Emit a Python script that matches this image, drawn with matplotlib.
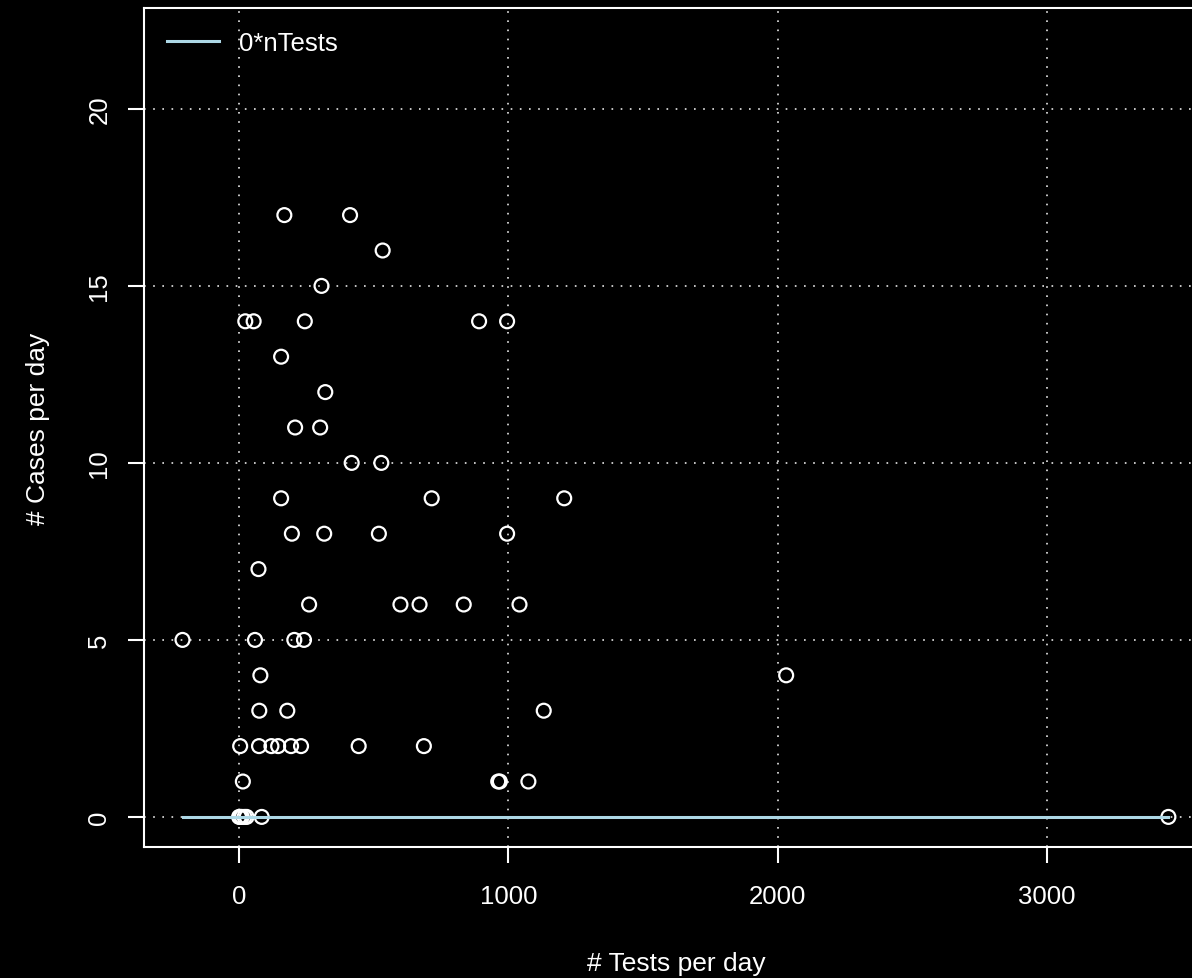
import matplotlib
matplotlib.use("Agg")
import matplotlib.pyplot as plt

# daily tests vs daily cases
tests = [168, 412, 533, 306, 23, 54, 244, 891, 995, 156, 320, 208, 301,
         418, 528, 156, 715, 1207, 196, 316, 519, 995, 72,
         260, 599, 670, 834, 1041, -210, 59, 205, 241, 79, 2031,
         75, 179, 1131, 4, 74, 120, 145, 193, 230, 444, 686,
         14, 962, 968, 1074, 0, 4, 10, 20, 28, 84, 3450]
cases = [17, 17, 16, 15, 14, 14, 14, 14, 14, 13, 12, 11, 11,
         10, 10, 9, 9, 9, 8, 8, 8, 8, 7,
         6, 6, 6, 6, 6, 5, 5, 5, 5, 4, 4,
         3, 3, 3, 2, 2, 2, 2, 2, 2, 2, 2,
         1, 1, 1, 1, 0, 0, 0, 0, 0, 0, 0]
xticks = [0, 1000, 2000, 3000]
yticks = [0, 5, 10, 15, 20]

plt.rcParams["font.family"] = ["Liberation Sans", "DejaVu Sans"]
plt.rcParams["font.size"] = 18.5

fig = plt.figure(figsize=(11.92, 9.79), dpi=100, facecolor="black")
ax = fig.add_axes([144 / 1192, 131 / 979, (1208 - 144) / 1192, (970 - 131) / 979])
ax.set_facecolor("black")

ax.scatter(tests, cases, s=100, facecolors="none", edgecolors="white",
           linewidths=1.6, zorder=3)

# the 0*nTests line, sorted by x
pairs = sorted(tests)
ax.plot(pairs, [0 * t for t in pairs], color="#ADD8E6", lw=2.2, zorder=4,
        label="0*nTests")

ax.set_xlim(-353, 3597)
ax.set_ylim(-0.85, 22.85)
ax.set_xticks(xticks)
ax.set_yticks(yticks)
ax.set_yticklabels([str(v) for v in yticks], rotation=90, va="center")

for v in xticks:
    ax.axvline(v, color="#e6e6e6", lw=1.2, ls=(0, (1, 4.5)), zorder=1)
for v in yticks:
    ax.axhline(v, color="#e6e6e6", lw=1.2, ls=(0, (1, 4.5)), zorder=1)

for s in ax.spines.values():
    s.set_color("white")
    s.set_linewidth(1.5)
ax.tick_params(axis="x", colors="white", length=11.5, width=1.5, pad=15, labelsize=18.5)
ax.tick_params(axis="y", colors="white", length=11.5, width=1.5, pad=12, labelsize=18.5)

ax.set_xlabel("# Tests per day", color="white", fontsize=19, labelpad=31)
ax.set_ylabel("# Cases per day", color="white", fontsize=19, labelpad=27)

leg = ax.legend(loc="upper left", frameon=False, fontsize=18.5,
                handlelength=2.0, handletextpad=0.8, borderaxespad=0.5)
for t in leg.get_texts():
    t.set_color("white")

fig.savefig("out.png", dpi=100, facecolor="black")
